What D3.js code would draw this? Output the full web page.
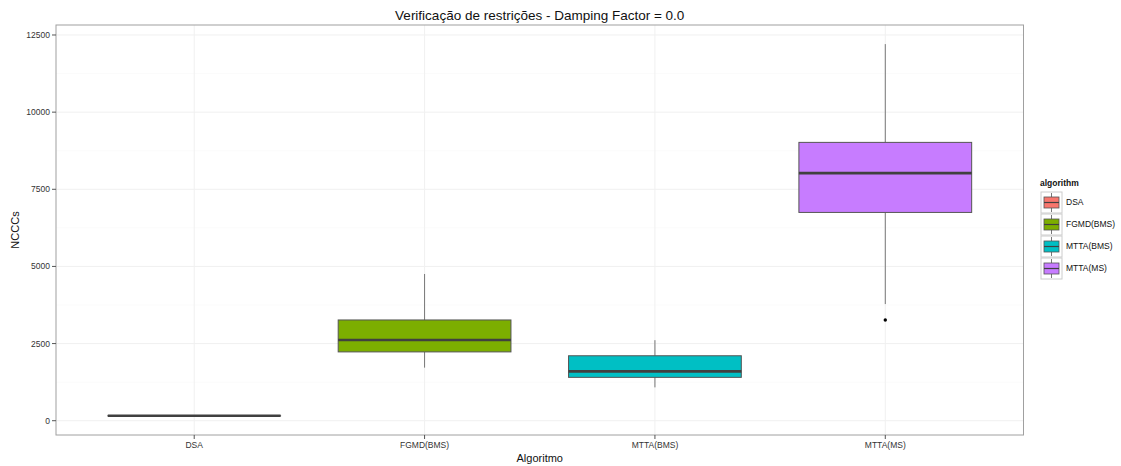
<!DOCTYPE html>
<html><head><meta charset="utf-8">
<script src="https://cdn.jsdelivr.net/npm/d3@7"></script>
<style>body{margin:0;background:#fff;} text{font-family:"Liberation Sans",Arial,sans-serif;}</style>
</head><body><svg id="c" width="1121" height="466"></svg>
<script>
const categories = ["DSA","FGMD(BMS)","MTTA(BMS)","MTTA(MS)"];
const colors = ["#F8766D","#7CAE00","#00BFC4","#C77CFF"];
const whiskerLow = [160, 1720, 1080, 3780];
const q1 = [160, 2230, 1405, 6750];
const median = [160, 2615, 1600, 8025];
const q3 = [160, 3265, 2105, 9020];
const whiskerHigh = [160, 4755, 2610, 12205];
const outliers = [[], [], [], [3265]];
const yTicks = [0, 2500, 5000, 7500, 10000, 12500];
const yMinor = [1250, 3750, 6250, 8750, 11250];

const svg = d3.select("#c");
const L = 56, R = 1023.5, T = 25, B = 435;
const y = d3.scaleLinear().domain([-463, 12824]).range([B, T]);
const x = d3.scalePoint().domain(categories).range([L, R]).padding(0.6);
const bw = 0.75 * x.step();

const g = svg.append("g");
g.selectAll(".mn").data(yMinor).join("line")
  .attr("x1", L).attr("x2", R).attr("y1", d => y(d)).attr("y2", d => y(d))
  .attr("stroke", "#fbfbfb").attr("stroke-width", 1);
g.selectAll(".mj").data(yTicks).join("line")
  .attr("x1", L).attr("x2", R).attr("y1", d => y(d)).attr("y2", d => y(d))
  .attr("stroke", "#f0f0f0").attr("stroke-width", 1);
g.selectAll(".vx").data(categories).join("line")
  .attr("x1", d => x(d)).attr("x2", d => x(d)).attr("y1", T).attr("y2", B)
  .attr("stroke", "#f0f0f0").attr("stroke-width", 1);

categories.forEach((c, i) => {
  const xc = x(c);
  const bg = g.append("g");
  bg.append("line").attr("x1", xc).attr("x2", xc).attr("y1", y(whiskerHigh[i])).attr("y2", y(q3[i]))
    .attr("stroke", "#777").attr("stroke-width", 1);
  bg.append("line").attr("x1", xc).attr("x2", xc).attr("y1", y(q1[i])).attr("y2", y(whiskerLow[i]))
    .attr("stroke", "#777").attr("stroke-width", 1);
  const h = Math.max(0.01, y(q1[i]) - y(q3[i]));
  bg.append("rect").attr("x", xc - bw/2).attr("width", bw).attr("y", y(q3[i])).attr("height", h)
    .attr("fill", colors[i]).attr("stroke", "#555").attr("stroke-width", 1);
  bg.append("line").attr("x1", xc - bw/2).attr("x2", xc + bw/2).attr("y1", y(median[i])).attr("y2", y(median[i]))
    .attr("stroke", "#404040").attr("stroke-width", 2.6);
  outliers[i].forEach(o => bg.append("circle").attr("cx", xc).attr("cy", y(o)).attr("r", 1.7).attr("fill", "#000"));
});

g.append("rect").attr("x", L).attr("y", T).attr("width", R - L).attr("height", B - T)
  .attr("fill", "none").attr("stroke", "#a0a0a0").attr("stroke-width", 1);

const ya = g.append("g");
yTicks.forEach(t => {
  ya.append("line").attr("x1", L - 4).attr("x2", L).attr("y1", y(t)).attr("y2", y(t)).attr("stroke", "#555");
  ya.append("text").attr("x", L - 6).attr("y", y(t)).attr("dy", "0.35em").attr("text-anchor", "end")
    .attr("font-size", 8.5).attr("fill", "#333").text(t);
});
categories.forEach(c => {
  ya.append("line").attr("x1", x(c)).attr("x2", x(c)).attr("y1", B).attr("y2", B + 4).attr("stroke", "#555");
  ya.append("text").attr("x", x(c)).attr("y", B + 13).attr("text-anchor", "middle")
    .attr("font-size", 8.5).attr("fill", "#333").text(c);
});

svg.append("text").attr("x", (L + R) / 2).attr("y", 20).attr("text-anchor", "middle")
  .attr("font-size", 13.5).attr("fill", "#111").text("Verificação de restrições - Damping Factor = 0.0");
svg.append("text").attr("x", (L + R) / 2).attr("y", 462).attr("text-anchor", "middle")
  .attr("font-size", 11).attr("fill", "#111").text("Algoritmo");
svg.append("text").attr("transform", `translate(19,${(T + B) / 2}) rotate(-90)`).attr("text-anchor", "middle")
  .attr("font-size", 11).attr("fill", "#111").text("NCCCs");

const lg = svg.append("g");
lg.append("text").attr("x", 1040).attr("y", 186).attr("font-size", 8.5).attr("font-weight", "bold").attr("fill", "#111").text("algorithm");
categories.forEach((c, i) => {
  const ky = 192 + i * 22;
  const kx = 1041;
  const k = lg.append("g");
  k.append("rect").attr("x", kx).attr("y", ky).attr("width", 21).attr("height", 21).attr("fill", "#fff").attr("stroke", "#ccc").attr("stroke-width", 1);
  k.append("line").attr("x1", kx + 10.5).attr("x2", kx + 10.5).attr("y1", ky + 1).attr("y2", ky + 20).attr("stroke", "#555").attr("stroke-width", 0.8);
  k.append("rect").attr("x", kx + 3).attr("y", ky + 5).attr("width", 15).attr("height", 11).attr("fill", colors[i]).attr("stroke", "#555").attr("stroke-width", 0.8);
  k.append("line").attr("x1", kx + 3).attr("x2", kx + 18).attr("y1", ky + 10.5).attr("y2", ky + 10.5).attr("stroke", "#404040").attr("stroke-width", 1.2);
  lg.append("text").attr("x", 1066).attr("y", ky + 10.5).attr("dy", "0.35em").attr("font-size", 8.5).attr("fill", "#111").text(c);
});
</script></body></html>
